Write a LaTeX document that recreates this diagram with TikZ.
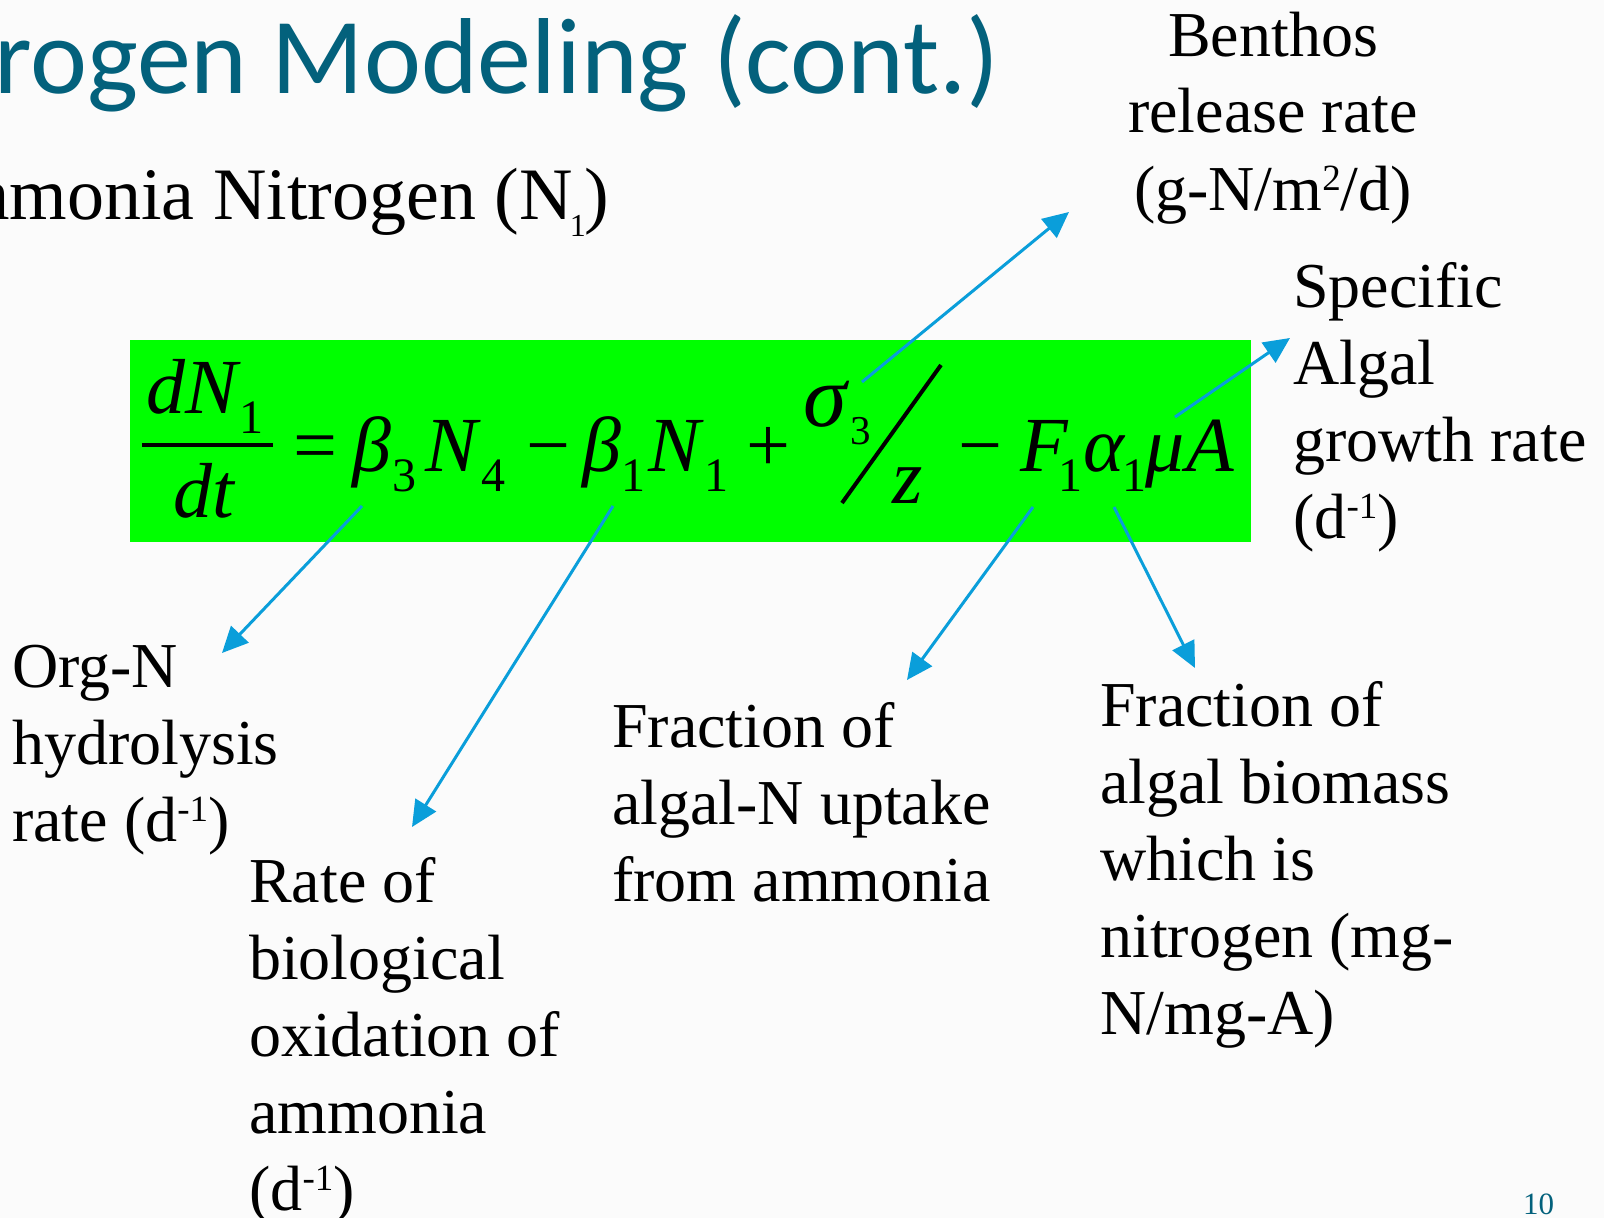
\documentclass[tikz,border=0pt]{standalone}
\usepackage{fontspec}
\setmainfont{Liberation Serif}
\newfontfamily\titlefont{Carlito}
\usetikzlibrary{arrows.meta}
\definecolor{teal1}{RGB}{3,97,124}
\definecolor{arrowblue}{RGB}{10,158,218}
\definecolor{eqgreen}{RGB}{0,255,0}
\definecolor{bgpaper}{RGB}{251,251,251}
\newcommand\mysup[1]{\raisebox{0.3em}{\fontsize{37}{39}\selectfont #1}}
\begin{document}
\begin{tikzpicture}[x=1pt,y=-1pt,
  eq/.style={inner sep=0pt, anchor=base west, font=\fontsize{78}{80}\selectfont\itshape},
  eqbig/.style={inner sep=0pt, anchor=base west, font=\fontsize{88}{90}\selectfont\itshape},
  eqsub/.style={inner sep=0pt, anchor=base west, font=\fontsize{48}{50}\selectfont},
  eqsmall/.style={inner sep=0pt, anchor=base west, font=\fontsize{41}{43}\selectfont},
  eqop/.style={inner sep=0pt, anchor=base west, font=\fontsize{78}{80}\selectfont},
  lbl/.style={inner sep=0pt, anchor=base west, font=\fontsize{64}{77}\selectfont},
  lblc/.style={inner sep=0pt, anchor=base, font=\fontsize{64}{77}\selectfont},
  callout/.style={draw=arrowblue, line width=3pt, -{Triangle[length=26pt,width=24pt]}},
  eqline/.style={line width=4pt}]
\useasboundingbox (0,0) rectangle (1604,1218);
\fill[bgpaper] (0,0) rectangle (1604,1218);
\clip (0,0) rectangle (1604,1218);

% title and subtitle
\node[anchor=base west, inner sep=0pt, text=teal1, font=\titlefont\fontsize{108}{112}\selectfont] (title) at (-6,93) {rogen Modeling (cont.)};
\node[anchor=base west, inner sep=0pt, font=\fontsize{74}{80}\selectfont] (subtitle) at (-48,219) {mmonia Nitrogen (N\kern-3pt\raisebox{-17pt}{\fontsize{32}{34}\selectfont 1}\kern-1pt)};

% green equation box
\fill[eqgreen] (130,340) rectangle (1251,542);

% equation
\node[eq] (nd) at (146,413) {dN};
\node[eqsub] (nds) at (239,433) {1};
\draw[eqline] (142,445) -- (273,445);
\node[eq] (dt) at (173,517) {dt};
\node[eqop] (eqsign) at (293,471) {=};
\node[eq] (b3) at (352,471) {β};
\node[eqsub] (b3s) at (392,491) {3};
\node[eq] (N4) at (425,471) {N};
\node[eqsub] (N4s) at (481,491) {4};
\node[eqop] (m1) at (526,471) {−};
\node[eq] (b1) at (582,471) {β};
\node[eqsub] (b1s) at (621,491) {1};
\node[eq] (N1) at (648,471) {N};
\node[eqsub] (N1s) at (704,491) {1};
\node[eqop] (p1) at (746,471) {+};
\node[eqbig] (sig) at (803,426) {σ};
\node[eqsmall] (sigs) at (850,444) {3};
\draw[eqline] (842,503) -- (941,365);
\node[eq] (zz) at (892,503) {z};
\node[eqop] (m2) at (958,471) {−};
\node[eq] (F) at (1020,471) {F};
\node[eqsub] (Fs) at (1058,491) {1};
\node[eq] (al) at (1083,471) {α};
\node[eqsub] (als) at (1122,491) {1};
\node[eq] (mu) at (1145,471) {μ};
\node[eq] (AA) at (1186,471) {A};

% labels
\node[lblc] (benthos) at (1273,56) {\begin{tabular}[t]{@{}c@{}}Benthos\\release rate\\(g-N/m\mysup{2}/d)\end{tabular}};
\node[lbl] (specific) at (1293,307) {\begin{tabular}[t]{@{}l@{}}Specific\\Algal\\growth rate\\(d\mysup{-1})\end{tabular}};
\node[lbl] (orgn) at (12,687) {\begin{tabular}[t]{@{}l@{}}Org-N\\hydrolysis\\rate (d\mysup{-1})\end{tabular}};
\node[lbl] (rate) at (249,902) {\begin{tabular}[t]{@{}l@{}}Rate of\\biological\\oxidation of\\ammonia\\(d\mysup{-1})\end{tabular}};
\node[lbl] (fracn) at (612,747) {\begin{tabular}[t]{@{}l@{}}Fraction of\\algal-N uptake\\from ammonia\end{tabular}};
\node[lbl] (fracb) at (1100,726) {\begin{tabular}[t]{@{}l@{}}Fraction of\\algal biomass\\which is\\nitrogen (mg-\\N/mg-A)\end{tabular}};

% page number
\node[anchor=base west, inner sep=0pt, text=teal1, font=\fontsize{31}{33}\selectfont] (pagenum) at (1523,1214) {10};

% callout arrows
\coordinate (s1) at (862,382); \coordinate (e1) at (1069,212);
\coordinate (s2) at (1175,417); \coordinate (e2) at (1290,338);
\coordinate (s3) at (362,506); \coordinate (e3) at (222,653);
\coordinate (s4) at (613,506); \coordinate (e4) at (412,827);
\coordinate (s5) at (1033,507); \coordinate (e5) at (907,680);
\coordinate (s6) at (1114,507); \coordinate (e6) at (1195,668);
\draw[callout] (s1) -- (e1);
\draw[callout] (s2) -- (e2);
\draw[callout] (s3) -- (e3);
\draw[callout] (s4) -- (e4);
\draw[callout] (s5) -- (e5);
\draw[callout] (s6) -- (e6);
\end{tikzpicture}
\end{document}
